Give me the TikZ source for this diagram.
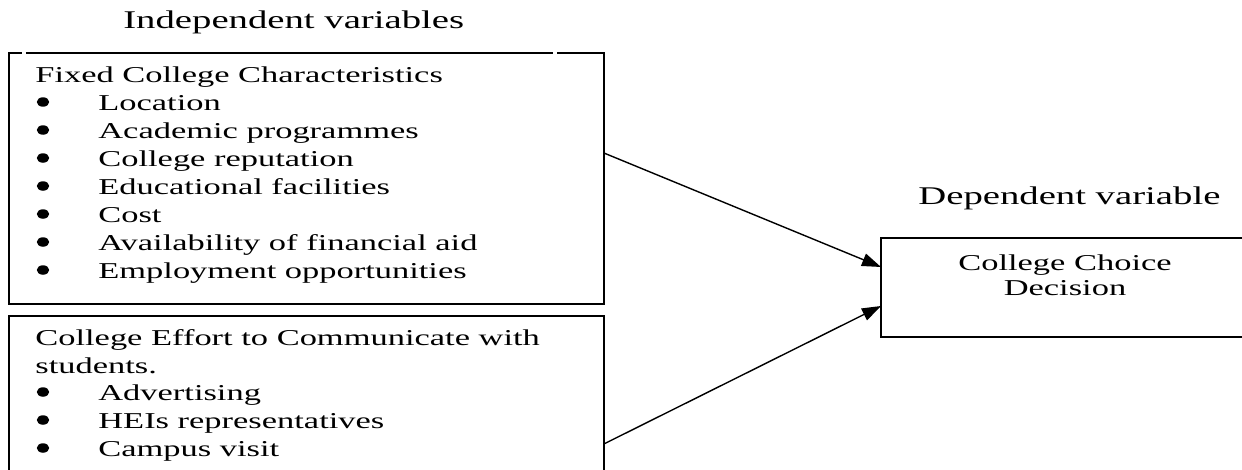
\documentclass[tikz,border=0pt]{standalone}
\usepackage{fontspec}
\setmainfont[FakeStretch=1.52]{Liberation Serif}
\usetikzlibrary{arrows.meta,shapes.geometric}

\begin{document}
\begin{tikzpicture}[x=0.02cm,y=-0.02cm,
    boxline/.style={line width=1pt},
    txt/.style={anchor=base west,inner sep=0pt,font=\fontsize{12.9}{15.5}\selectfont},
    ttl/.style={anchor=base west,inner sep=0pt,font=\fontsize{14.5}{17}\selectfont},
    dot/.style={ellipse,fill,inner sep=0pt,minimum width=0.25cm,minimum height=0.19cm},
    frame/.style={inner sep=0pt,outer sep=0pt,anchor=north west},
    link/.style={line width=0.8pt,-{Triangle[length=0.38cm,width=0.26cm]}}]
  % one unit is one pixel of the 1242 x 470 frame, y grows downwards
  \useasboundingbox (0,0) rectangle (1242,470);
  \node[ttl] (indep) at (123,29) {Independent variables};
  \node[ttl] (dep) at (918,204) {Dependent variable};

  % left boxes (the upper one has two small gaps in its top edge)
  \node[frame,minimum width=11.9cm,minimum height=5.02cm] (fixed) at (9,53) {};
  \draw[boxline] ([xshift=0.26cm]fixed.north west) -- (fixed.north west) -- (fixed.south west)
    -- (fixed.south east) -- (fixed.north east) -- ([xshift=-0.94cm]fixed.north east);
  \draw[boxline] ([xshift=0.34cm]fixed.north west) -- ([xshift=-1.02cm]fixed.north east);
  \node[frame,draw,boxline,minimum width=11.9cm,minimum height=3.28cm] (effort) at (9,316) {};

  \node[txt] (fixedhd) at (35,82) {Fixed College Characteristics};
  \foreach \lbl [count=\i] in {Location,Academic programmes,College reputation,
      Educational facilities,Cost,Availability of financial aid,Employment opportunities}{
    \node[dot] (fb\i) at (43,{74+28*\i}) {};
    \node[txt] (fi\i) at (98,{82+28*\i}) {\lbl};
  }

  \node[txt] (efforthd) at (35,345) {College Effort to Communicate with};
  \node[txt] (efforthd2) at (35,373) {students.};
  \foreach \lbl [count=\i] in {Advertising,HEIs representatives,Campus visit}{
    \node[dot] (eb\i) at (43,{364+28*\i}) {};
    \node[txt] (ei\i) at (98,{372+28*\i}) {\lbl};
  }

  % dependent box
  \node[frame,draw,line width=1.6pt,minimum width=8.38cm,minimum height=1.98cm] (choice) at (881,238) {};
  \node[txt,anchor=base] (choice1) at (1065,270) {College Choice};
  \node[txt,anchor=base] (choice2) at (1065,295) {Decision};

  \draw[link] ([yshift=0.51cm]fixed.east) -- ([yshift=0.41cm]choice.west);
  \draw[link] ([yshift=-0.92cm]effort.east) -- ([yshift=-0.37cm]choice.west);
\end{tikzpicture}
\end{document}
